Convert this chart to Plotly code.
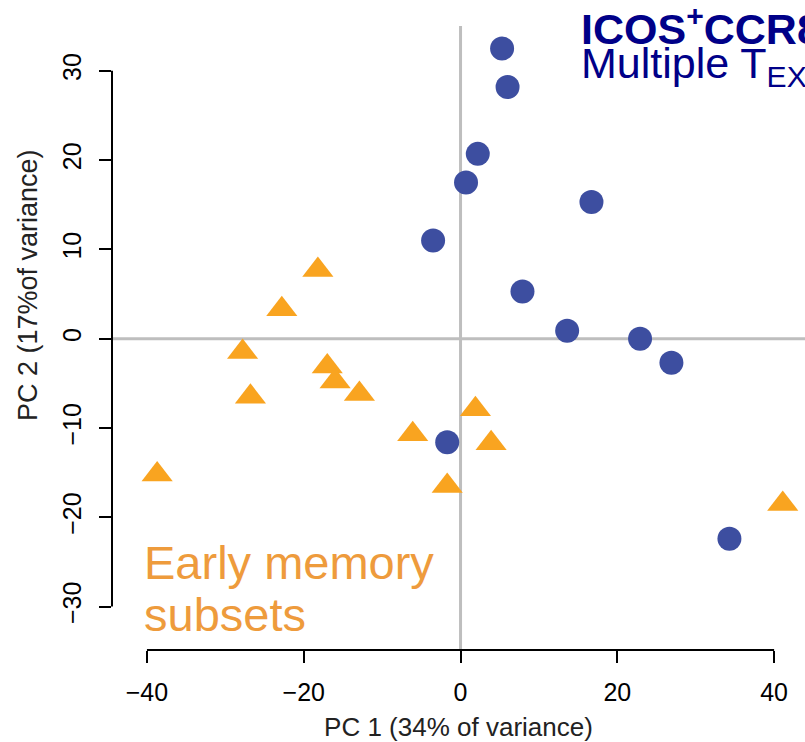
import plotly.graph_objects as go

# ---- data ----
blue_x = [5.3, 6.0, 2.2, 0.7, 16.7, -3.5, 7.9, 13.6, 22.9, 26.9, -1.7, 34.3]
blue_y = [32.5, 28.2, 20.7, 17.5, 15.3, 11.0, 5.3, 0.9, 0.0, -2.7, -11.6, -22.4]
orange_x = [-38.7, -27.8, -26.8, -22.8, -18.2, -17.0, -16.0, -12.9, -6.1, 1.9, 3.9, -1.7, 41.1]
orange_y = [-15.2, -1.5, -6.5, 3.3, 7.7, -3.1, -4.8, -6.2, -10.7, -7.9, -11.7, -16.5, -18.5]
x_ticks = [-40, -20, 0, 20, 40]
y_ticks = [-30, -20, -10, 0, 10, 20, 30]
x_title = "PC 1 (34% of variance)"
y_title = "PC 2 (17%of variance)"
label_blue = ["ICOS<sup>+</sup>CCR8", "Multiple T<sub>EX</sub>"]
label_orange = ["Early memory", "subsets"]

BLUE = "#3D4EA0"
ORANGE = "#F9A420"
TXT_ORANGE = "#EE9B3C"
NAVY = "#000088"
GRAY = "#BEBEBE"
FONT = "Liberation Sans, Arial, sans-serif"

fig = go.Figure()
fig.add_trace(go.Scatter(x=blue_x, y=blue_y, mode="markers", cliponaxis=False,
                         marker=dict(symbol="circle", size=24, color=BLUE), showlegend=False))
fig.add_trace(go.Scatter(x=orange_x, y=orange_y, mode="markers", cliponaxis=False,
                         marker=dict(symbol="triangle-up", size=27, color=ORANGE), showlegend=False))

# reference lines at 0
fig.add_shape(type="line", xref="x", yref="paper", x0=0, x1=0, y0=0, y1=1,
              line=dict(color=GRAY, width=3), layer="below")
fig.add_shape(type="line", xref="paper", yref="y", x0=0, x1=1, y0=0, y1=0,
              line=dict(color=GRAY, width=3), layer="below")
# R-style axis lines spanning first to last tick
fig.add_shape(type="line", xref="x", yref="paper", x0=min(x_ticks), x1=max(x_ticks), y0=0, y1=0,
              line=dict(color="black", width=2))
fig.add_shape(type="line", xref="paper", yref="y", x0=0, x1=0, y0=min(y_ticks), y1=max(y_ticks),
              line=dict(color="black", width=2))

# text labels
fig.add_annotation(text="<b>" + label_blue[0] + "</b>", xref="paper", yref="paper", x=0.674, y=1.0,
                   xanchor="left", yanchor="middle", showarrow=False,
                   font=dict(family=FONT, size=43, color=NAVY))
fig.add_annotation(text=label_blue[1], xref="paper", yref="paper", x=0.674, y=0.936,
                   xanchor="left", yanchor="middle", showarrow=False,
                   font=dict(family=FONT, size=43, color=NAVY))
fig.add_annotation(text=label_orange[0], xref="paper", yref="paper", x=0.044, y=0.14,
                   xanchor="left", yanchor="middle", showarrow=False,
                   font=dict(family=FONT, size=47, color=TXT_ORANGE))
fig.add_annotation(text=label_orange[1], xref="paper", yref="paper", x=0.044, y=0.057,
                   xanchor="left", yanchor="middle", showarrow=False,
                   font=dict(family=FONT, size=47, color=TXT_ORANGE))
# y-axis title (placed as in the reference)
fig.add_annotation(text=y_title, xref="paper", yref="paper", x=-0.121, y=0.585,
                   xanchor="center", yanchor="middle", textangle=-90, showarrow=False,
                   font=dict(family=FONT, size=27, color="#222222"))

fig.update_xaxes(range=[-44.46, 43.94], tickvals=x_ticks, ticks="outside", ticklen=12, tickwidth=2,
                 tickcolor="black", showline=False, showgrid=False, zeroline=False,
                 ticklabelstandoff=8,
                 tickfont=dict(family=FONT, size=25, color="black"),
                 title=dict(text=x_title, standoff=14, font=dict(family=FONT, size=26, color="#222222")))
fig.update_yaxes(range=[-34.86, 35.02], tickvals=y_ticks, ticks="outside", ticklen=12, tickwidth=2,
                 tickcolor="black", showline=False, showgrid=False, zeroline=False,
                 tickangle=-90, ticklabelstandoff=8,
                 tickfont=dict(family=FONT, size=25, color="black"))

fig.update_layout(width=805, height=742, margin=dict(l=112, r=0, t=26, b=92, autoexpand=False),
                  plot_bgcolor="white", paper_bgcolor="white", font=dict(family=FONT))

fig.write_html("out.html")
